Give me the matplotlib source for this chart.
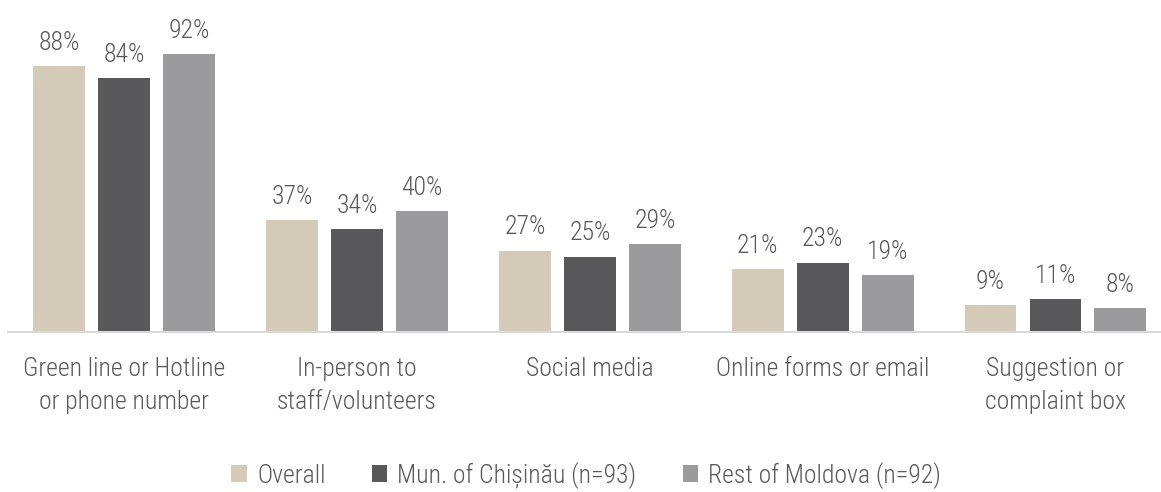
import matplotlib.pyplot as plt
import numpy as np
from matplotlib import font_manager

names = {f.name for f in font_manager.fontManager.ttflist}

categories = ["Green line or Hotline\nor phone number", "In-person to\nstaff/volunteers",
              "Social media", "Online forms or email", "Suggestion or\ncomplaint box"]
series = ["Overall", "Mun. of Chișinău (n=93)", "Rest of Moldova (n=92)"]
overall = [88, 37, 27, 21, 9]
chisinau = [84, 34, 25, 23, 11]
rest = [92, 40, 29, 19, 8]

colors = ["#D3CBB8", "#58585A", "#9B9B9D"]
txt = "#595959"

for fam in ["Roboto Condensed", "Liberation Sans Narrow", "Roboto"]:
    if fam in names:
        plt.rcParams['font.family'] = [fam, "DejaVu Sans"]
        break
plt.rcParams['font.weight'] = 'light'

fig = plt.figure(figsize=(11.61, 4.92), dpi=100)
ax = fig.add_axes([8 / 1161, 160 / 492, 1152 / 1161, 332 / 492])

x = np.arange(len(categories))
w = 0.223
off = 0.279
for k, vals in enumerate([overall, chisinau, rest]):
    bars = ax.bar(x + (k - 1) * off, vals, w, color=colors[k], label=series[k])
    for b, v in zip(bars, vals):
        ax.annotate(f"{v}%", (b.get_x() + b.get_width() / 2, v), xytext=(0, 8),
                    textcoords="offset points", ha="center", va="bottom",
                    fontsize=18.5, color=txt)

ax.set_xlim(-0.5, 4.449)
ax.set_ylim(0, 110)
ax.set_yticks([])
ax.set_xticks(x)
ax.set_xticklabels(categories, fontsize=18.5, color=txt, linespacing=1.5)
ax.tick_params(axis="x", length=0, pad=18)
for s in ["top", "right", "left"]:
    ax.spines[s].set_visible(False)
ax.spines["bottom"].set_color("#D9D9D9")
ax.spines["bottom"].set_linewidth(1.5)

leg = fig.legend(loc="lower center", bbox_to_anchor=(0.505, -0.04), ncol=3, frameon=False,
                 fontsize=18.5, handlelength=0.6, handleheight=0.6, handletextpad=0.4,
                 columnspacing=1.8)
for t in leg.get_texts():
    t.set_color(txt)

fig.savefig("out.png", dpi=100)
